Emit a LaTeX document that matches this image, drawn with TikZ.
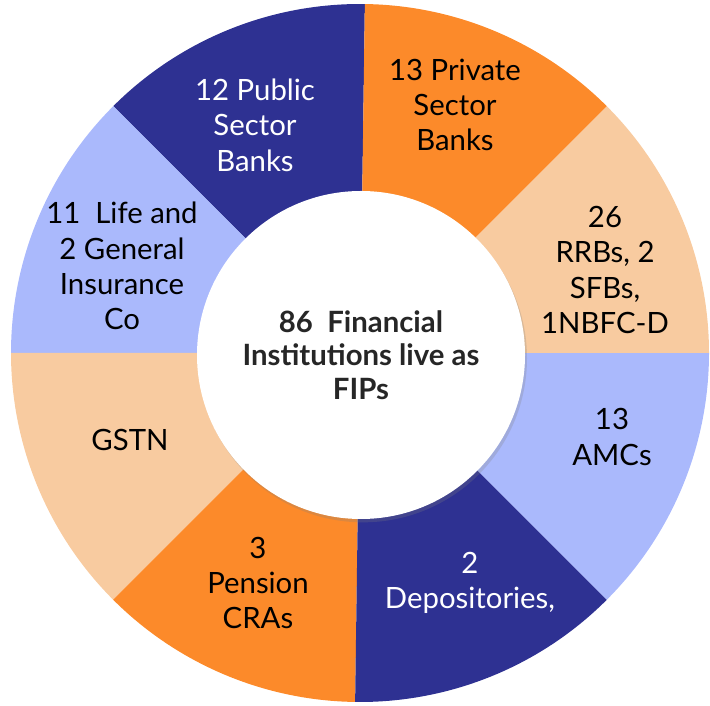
\documentclass[tikz,border=0pt]{standalone}
\usepackage{fontspec}
\setmainfont{Lato}
\usetikzlibrary{shadows}

\definecolor{fipnavy}{RGB}{46,49,146}
\definecolor{fiporange}{RGB}{252,138,42}
\definecolor{fippeach}{RGB}{248,203,160}
\definecolor{fipsky}{RGB}{170,185,252}
\definecolor{hubtext}{RGB}{38,38,38}

\begin{document}
\begin{tikzpicture}[x=0.75pt, y=0.75pt,
    seglabel/.style={align=center, font=\fontsize{22}{26.5}\selectfont, text=black},
    hub/.style={shape=circle, fill=white, minimum size=246pt, inner sep=0pt,
        align=center, font=\fontsize{22}{25}\selectfont\bfseries, text=hubtext,
        drop shadow={opacity=0.25, shadow xshift=1.5pt, shadow yshift=-2.5pt}}]
    \useasboundingbox (0, 0) rectangle (710, 706);
    \coordinate (c) at (360, 353);

    % ring
    \fill[fipnavy]   (c) -- ++(89.2:349)  arc[start angle=89.2,  end angle=135,   radius=349] -- cycle;
    \fill[fipsky]    (c) -- ++(135:349)   arc[start angle=135,   end angle=180,   radius=349] -- cycle;
    \fill[fippeach]  (c) -- ++(180:349)   arc[start angle=180,   end angle=225,   radius=349] -- cycle;
    \fill[fiporange] (c) -- ++(225:349)   arc[start angle=225,   end angle=269.2, radius=349] -- cycle;
    \fill[fipnavy]   (c) -- ++(269.2:349) arc[start angle=269.2, end angle=315,   radius=349] -- cycle;
    \fill[fipsky]    (c) -- ++(315:349)   arc[start angle=315,   end angle=360,   radius=349] -- cycle;
    \fill[fippeach]  (c) -- ++(0:349)     arc[start angle=0,     end angle=45,    radius=349] -- cycle;
    \fill[fiporange] (c) -- ++(45:349)    arc[start angle=45,    end angle=89.2,  radius=349] -- cycle;

    \node (hub) at (361, 351) [hub] {86\ \ Financial\\Institutions live as\\FIPs};

    \node (psb)  at (255, 581) [seglabel, text=white] {12 Public\\Sector\\Banks};
    \node (pvt)  at (455, 601) [seglabel] {13 Private\\Sector\\Banks};
    \node (rrb)  at (605, 436) [seglabel] {26\\RRBs, 2\\SFBs,\\1NBFC-D};
    \node (amc)  at (612, 269) [seglabel] {13\\AMCs};
    \node (dep)  at (470, 123) [seglabel, text=white] {2\\Depositories,};
    \node (cra)  at (258, 123) [seglabel] {3\\Pension\\CRAs};
    \node (gstn) at (130, 266) [seglabel] {GSTN};
    \node (ins)  at (122, 440) [seglabel] {11\ \ Life and\\2 General\\Insurance\\Co};
\end{tikzpicture}
\end{document}
